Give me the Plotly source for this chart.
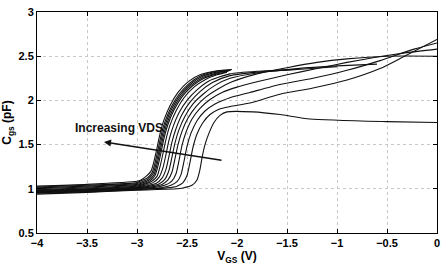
import plotly.graph_objects as go

# VGS (V) and Cgs (pF) for each VDS curve, from lowest VDS (rightmost) to highest VDS (leftmost)
vgs_1 = [-4, -3.5, -3.0, -2.6, -2.54, -2.45, -2.40, -2.37, -2.35, -2.32, -2.28, -2.23, -2.17, -2.10, -1.84, -1.57, -1.27, -0.5, 0]
cgs_1 = [0.94, 0.96, 0.985, 1.0, 1.01, 1.04, 1.10, 1.22, 1.35, 1.50, 1.63, 1.75, 1.83, 1.87, 1.87, 1.84, 1.79, 1.76, 1.75]

vgs_2 = [-4, -3.5, -3.0, -2.7, -2.6, -2.54, -2.50, -2.47, -2.44, -2.40, -2.34, -2.27, -2.18, -2.07, -1.87, -1.57, -1.24, -0.9, -0.57, -0.34, 0]
cgs_2 = [0.95, 0.965, 0.99, 1.01, 1.03, 1.07, 1.15, 1.30, 1.47, 1.62, 1.75, 1.84, 1.90, 1.93, 1.97, 2.07, 2.14, 2.23, 2.36, 2.49, 2.69]

vgs_3 = [-4, -3.5, -3.0, -2.75, -2.66, -2.60, -2.56, -2.53, -2.50, -2.46, -2.40, -2.32, -2.22, -2.07, -1.87, -1.57, -1.24, -0.9, -0.57, -0.23, 0]
cgs_3 = [0.955, 0.97, 0.995, 1.015, 1.04, 1.08, 1.16, 1.31, 1.48, 1.63, 1.77, 1.88, 1.96, 2.03, 2.09, 2.18, 2.25, 2.34, 2.45, 2.58, 2.65]

vgs_4 = [-4, -3.5, -3.0, -2.8, -2.71, -2.65, -2.61, -2.58, -2.55, -2.51, -2.45, -2.37, -2.27, -2.15, -2.0, -1.8, -1.5, -1.2, -0.9, -0.6, -0.3, 0]
cgs_4 = [0.96, 0.975, 1.0, 1.02, 1.045, 1.09, 1.17, 1.32, 1.49, 1.64, 1.79, 1.91, 2.01, 2.09, 2.15, 2.21, 2.29, 2.36, 2.43, 2.49, 2.54, 2.58]

vgs_5 = [-4, -3.5, -3.0, -2.84, -2.75, -2.69, -2.65, -2.62, -2.59, -2.55, -2.49, -2.41, -2.31, -2.19, -2.05, -1.8, -1.5, -1.2, -0.9, -0.5, 0]
cgs_5 = [0.965, 0.98, 1.005, 1.025, 1.05, 1.10, 1.19, 1.34, 1.50, 1.65, 1.80, 1.93, 2.04, 2.13, 2.21, 2.30, 2.37, 2.43, 2.47, 2.50, 2.50]

vgs_6 = [-4, -3.5, -3.0, -2.87, -2.78, -2.72, -2.68, -2.65, -2.62, -2.58, -2.52, -2.44, -2.34, -2.22, -2.07, -1.8, -1.4, -1.0, -0.6]
cgs_6 = [0.97, 0.985, 1.01, 1.03, 1.055, 1.11, 1.21, 1.36, 1.52, 1.67, 1.82, 1.96, 2.07, 2.17, 2.25, 2.31, 2.36, 2.39, 2.41]

vgs_7 = [-4, -3.5, -3.0, -2.9, -2.81, -2.75, -2.71, -2.68, -2.65, -2.61, -2.55, -2.47, -2.37, -2.25, -2.07, -1.8, -1.4, -1.0]
cgs_7 = [0.975, 0.99, 1.015, 1.035, 1.06, 1.12, 1.22, 1.37, 1.53, 1.68, 1.84, 1.98, 2.10, 2.20, 2.28, 2.32, 2.35, 2.38]

vgs_8 = [-4, -3.5, -3.0, -2.92, -2.84, -2.78, -2.74, -2.71, -2.68, -2.64, -2.58, -2.50, -2.40, -2.28, -2.07, -1.8, -1.4]
cgs_8 = [0.98, 0.995, 1.02, 1.04, 1.07, 1.13, 1.24, 1.39, 1.55, 1.70, 1.86, 2.00, 2.12, 2.22, 2.30, 2.33, 2.35]

vgs_9 = [-4, -3.5, -3.0, -2.93, -2.86, -2.80, -2.77, -2.74, -2.71, -2.67, -2.61, -2.53, -2.43, -2.31, -2.2, -2.1]
cgs_9 = [0.985, 1.0, 1.03, 1.05, 1.08, 1.14, 1.25, 1.40, 1.56, 1.72, 1.88, 2.03, 2.15, 2.24, 2.29, 2.32]

vgs_10 = [-4, -3.5, -3.0, -2.93, -2.87, -2.82, -2.79, -2.76, -2.73, -2.69, -2.63, -2.55, -2.45, -2.33, -2.2, -2.09]
cgs_10 = [0.99, 1.01, 1.04, 1.06, 1.09, 1.15, 1.26, 1.41, 1.57, 1.73, 1.89, 2.04, 2.16, 2.25, 2.30, 2.33]

vgs_11 = [-4, -3.5, -3.0, -2.94, -2.88, -2.83, -2.80, -2.77, -2.74, -2.70, -2.64, -2.56, -2.46, -2.34, -2.2, -2.08]
cgs_11 = [1.0, 1.02, 1.05, 1.07, 1.10, 1.16, 1.27, 1.42, 1.58, 1.74, 1.90, 2.05, 2.17, 2.26, 2.31, 2.335]

vgs_12 = [-4, -3.5, -3.0, -2.95, -2.89, -2.84, -2.81, -2.78, -2.75, -2.71, -2.65, -2.57, -2.47, -2.35, -2.2, -2.07]
cgs_12 = [1.01, 1.03, 1.06, 1.08, 1.11, 1.17, 1.28, 1.43, 1.59, 1.75, 1.91, 2.06, 2.18, 2.27, 2.32, 2.34]

vgs_13 = [-4, -3.5, -3.0, -2.96, -2.90, -2.85, -2.82, -2.79, -2.76, -2.72, -2.66, -2.58, -2.48, -2.36, -2.2, -2.06]
cgs_13 = [1.02, 1.04, 1.07, 1.09, 1.12, 1.18, 1.29, 1.44, 1.60, 1.76, 1.92, 2.07, 2.19, 2.28, 2.33, 2.345]

vgs_14 = [-4, -3.5, -3.0, -2.96, -2.91, -2.86, -2.83, -2.80, -2.77, -2.73, -2.67, -2.59, -2.49, -2.37, -2.2, -2.05]
cgs_14 = [1.03, 1.05, 1.085, 1.10, 1.14, 1.20, 1.31, 1.46, 1.62, 1.78, 1.94, 2.09, 2.21, 2.29, 2.335, 2.35]

curves = [(vgs_1, cgs_1), (vgs_2, cgs_2), (vgs_3, cgs_3), (vgs_4, cgs_4), (vgs_5, cgs_5),
          (vgs_6, cgs_6), (vgs_7, cgs_7), (vgs_8, cgs_8), (vgs_9, cgs_9), (vgs_10, cgs_10),
          (vgs_11, cgs_11), (vgs_12, cgs_12), (vgs_13, cgs_13), (vgs_14, cgs_14)]

x_ticks = [-4, -3.5, -3, -2.5, -2, -1.5, -1, -0.5, 0]
x_ticklabels = ["\u22124", "\u22123.5", "\u22123", "\u22122.5", "\u22122", "\u22121.5", "\u22121", "\u22120.5", "0"]
y_ticks = [0.5, 1, 1.5, 2, 2.5, 3]
y_ticklabels = ["0.5", "1", "1.5", "2", "2.5", "3"]

annotation_text = "Increasing VDS"
arrow_tail = (-2.14, 1.32)
arrow_head = (-3.33, 1.53)
label_pos = (-3.18, 1.69)

fig = go.Figure()
for vx, cy in curves:
    fig.add_trace(go.Scatter(x=vx, y=cy, mode="lines",
                             line=dict(color="#111111", width=1.1, shape="spline", smoothing=0.6),
                             showlegend=False, hoverinfo="skip"))

fig.add_annotation(x=arrow_head[0], y=arrow_head[1], ax=arrow_tail[0], ay=arrow_tail[1],
                   xref="x", yref="y", axref="x", ayref="y", text="",
                   showarrow=True, arrowhead=2, arrowsize=1.0, arrowwidth=1.4, arrowcolor="#111111")
fig.add_annotation(x=label_pos[0], y=label_pos[1], xref="x", yref="y", text="<b>" + annotation_text + "</b>",
                   showarrow=False, font=dict(family="Liberation Sans, Arial", size=12, color="#111111"))

axis_common = dict(showline=True, linecolor="#000000", linewidth=1, mirror="ticks",
                   ticks="inside", ticklen=4, tickcolor="#000000",
                   showgrid=True, gridcolor="#c8c8c8", griddash="dot", gridwidth=1,
                   zeroline=False,
                   tickfont=dict(family="Liberation Sans, Arial", size=11, color="#000000", weight="bold"))

fig.update_xaxes(range=[-4, 0], tickvals=x_ticks, ticktext=x_ticklabels,
                 title=dict(text="<b>V<sub>GS</sub> (V)</b>", standoff=1,
                            font=dict(family="Liberation Sans, Arial", size=12, color="#000000")),
                 **axis_common)
fig.update_yaxes(range=[0.5, 3], tickvals=y_ticks, ticktext=y_ticklabels,
                 title=dict(text="<b>C<sub>gs</sub> (pF)</b>", standoff=4,
                            font=dict(family="Liberation Sans, Arial", size=12, color="#000000")),
                 **axis_common)

fig.update_layout(width=446, height=265, margin=dict(l=37, r=9, t=6, b=28),
                  paper_bgcolor="#ffffff", plot_bgcolor="#ffffff",
                  font=dict(family="Liberation Sans, Arial"))

fig.write_html("out.html")
